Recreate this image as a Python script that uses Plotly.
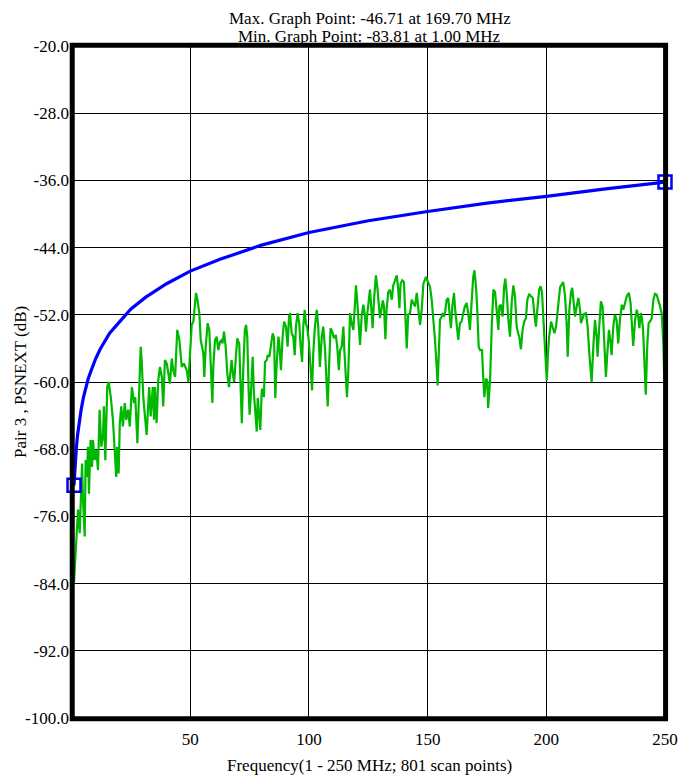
import plotly.graph_objects as go

freq_mhz = [
    1.0, 2.0, 2.7, 3.4, 4.4, 4.8, 5.5, 5.9, 6.4, 6.9, 7.3, 8.0, 8.6, 9.0, 9.7, 10.4, 11.1, 11.8, 12.5, 13.2,
    13.6, 14.2, 15.0, 15.6, 16.5, 17.4, 18.1, 18.8, 19.2, 19.8, 20.3, 20.9, 21.6, 22.4, 23.0, 23.8, 24.5, 25.4, 26.3, 26.8,
    27.7, 28.3, 29.1, 29.5, 30.2, 30.9, 31.6, 32.3, 32.7, 33.3, 34.2, 34.7, 35.1, 35.8, 36.5, 37.2, 38.0, 38.6, 39.3, 40.1,
    40.7, 41.4, 42.2, 42.8, 43.6, 44.5, 45.4, 46.4, 47.3, 48.5, 49.2, 49.9, 50.6, 51.3, 52.0, 52.4, 53.0, 53.8, 54.4, 55.5,
    55.9, 56.5, 57.3, 58.0, 58.6, 59.3, 59.7, 60.4, 61.1, 61.8, 62.5, 63.2, 63.6, 64.2, 64.9, 65.6, 66.3, 67.0, 67.4, 68.1,
    68.5, 69.3, 69.8, 70.6, 71.2, 71.7, 72.3, 73.0, 73.5, 74.0, 74.6, 75.0, 75.6, 76.3, 76.8, 77.6, 78.0, 78.4, 78.9, 79.5,
    80.1, 80.5, 81.0, 81.5, 82.2, 82.6, 83.3, 84.0, 84.7, 85.3, 85.8, 86.4, 87.1, 87.5, 88.2, 88.9, 89.5, 90.3, 91.0, 91.6,
    92.0, 92.7, 93.4, 94.0, 94.5, 95.2, 95.9, 96.5, 97.1, 97.6, 98.2, 98.7, 99.3, 99.9, 100.7, 101.3, 101.8, 102.5, 103.3, 103.9,
    104.6, 105.4, 106.0, 106.7, 107.5, 107.9, 108.4, 109.1, 109.8, 110.5, 111.3, 111.9, 112.6, 113.1, 113.8, 114.5, 114.9, 115.5, 116.0, 116.6,
    117.3, 118.0, 118.7, 119.4, 119.8, 120.4, 121.0, 121.5, 122.2, 122.9, 123.6, 124.0, 124.6, 125.2, 125.7, 126.3, 126.8, 127.4, 128.2, 128.8,
    129.4, 129.9, 130.5, 131.1, 131.6, 132.2, 132.7, 133.4, 134.1, 134.9, 135.5, 136.2, 137.0, 137.6, 138.1, 138.6, 139.3, 140.0, 140.6, 141.2,
    141.8, 142.6, 143.3, 143.9, 144.7, 145.4, 146.1, 146.8, 147.5, 148.2, 149.3, 151.0, 151.7, 152.4, 153.1, 153.8, 154.2, 154.8, 155.2, 155.9,
    156.3, 156.9, 157.4, 158.0, 158.7, 159.1, 159.8, 160.4, 161.1, 161.6, 162.2, 162.9, 163.6, 164.3, 165.0, 165.7, 166.4, 167.1, 167.8, 168.6,
    169.2, 169.7, 170.4, 170.9, 171.5, 172.1, 172.9, 173.4, 173.9, 174.6, 175.1, 175.5, 176.3, 177.0, 177.7, 178.4, 179.1, 179.8, 180.2, 180.8,
    181.6, 182.2, 182.7, 183.3, 184.0, 184.7, 185.4, 186.1, 186.8, 187.5, 188.1, 188.6, 189.3, 190.0, 190.7, 191.4, 192.0, 192.8, 193.5, 194.3,
    194.9, 195.6, 196.4, 197.0, 197.6, 198.2, 198.7, 199.4, 200.2, 200.7, 201.2, 202.0, 202.7, 203.4, 204.1, 204.8, 205.8, 207.1, 207.9, 208.6,
    209.0, 209.7, 210.4, 210.9, 211.7, 212.1, 212.8, 213.5, 214.2, 214.6, 215.3, 215.9, 216.7, 217.4, 218.1, 219.1, 219.8, 220.5, 221.2, 221.6,
    222.3, 223.0, 223.7, 224.4, 225.1, 225.7, 226.4, 227.1, 227.5, 228.2, 228.9, 229.6, 230.3, 231.0, 231.8, 232.4, 233.1, 233.9, 234.8, 235.5,
    236.1, 236.6, 237.4, 238.1, 238.7, 239.2, 239.8, 240.3, 240.8, 241.4, 241.9, 242.5, 243.1, 243.7, 244.4, 245.1, 245.8, 246.5, 247.2, 247.9,
    248.6, 249.3, 249.7, 250.0,
]
psnext_db = [
    -83.8, -78.4, -75.2, -78.0, -69.7, -74.0, -78.4, -69.3, -71.3, -67.7, -73.3, -66.9, -70.1, -66.9, -69.3, -68.1, -70.5, -63.3, -67.7, -66.5,
    -62.9, -69.3, -60.6, -60.0, -61.8, -64.5, -68.5, -71.3, -67.7, -70.9, -64.9, -62.9, -65.3, -62.5, -64.5, -63.3, -65.3, -60.6, -62.5, -61.8,
    -67.3, -61.8, -55.8, -57.4, -61.8, -64.1, -66.3, -62.5, -60.6, -64.1, -60.6, -64.5, -60.6, -64.9, -59.8, -58.2, -59.4, -62.9, -57.4, -57.8,
    -59.0, -60.2, -57.2, -58.6, -59.4, -53.8, -55.0, -58.2, -57.8, -58.6, -60.0, -55.8, -53.2, -52.8, -50.0, -49.4, -50.2, -51.8, -55.0, -56.6,
    -59.4, -55.8, -53.0, -53.8, -57.8, -62.5, -58.2, -55.0, -54.6, -56.2, -55.2, -55.0, -55.4, -54.0, -55.8, -59.0, -60.6, -59.0, -57.4, -59.4,
    -60.0, -56.6, -54.8, -55.4, -59.8, -64.9, -58.6, -53.8, -53.2, -54.6, -61.3, -63.9, -61.0, -57.0, -61.3, -64.9, -65.9, -61.9, -63.7, -65.7,
    -61.0, -60.8, -61.8, -57.6, -57.4, -56.8, -57.0, -55.4, -54.2, -54.8, -61.9, -57.8, -54.6, -55.4, -58.6, -54.6, -52.8, -53.4, -55.8, -52.2,
    -51.8, -54.2, -54.6, -56.8, -53.4, -51.8, -53.0, -55.8, -57.6, -53.4, -51.4, -53.0, -53.6, -55.0, -59.0, -61.0, -56.6, -53.4, -51.4, -53.4,
    -58.2, -54.6, -53.4, -55.8, -60.6, -62.9, -58.6, -53.6, -54.0, -54.8, -54.4, -55.8, -58.6, -56.2, -55.8, -53.4, -56.2, -59.4, -61.8, -58.6,
    -51.8, -53.0, -53.8, -50.6, -48.5, -50.6, -54.2, -55.6, -52.2, -50.8, -52.2, -54.0, -51.8, -49.8, -49.0, -51.4, -53.6, -50.2, -47.3, -48.7,
    -51.0, -52.4, -51.4, -50.3, -51.0, -54.9, -51.4, -49.3, -49.0, -50.2, -48.5, -47.9, -47.3, -49.0, -51.2, -48.3, -47.9, -48.1, -51.8, -56.0,
    -52.0, -51.8, -50.2, -50.6, -51.0, -49.4, -51.4, -53.2, -51.4, -48.3, -47.5, -48.7, -50.2, -52.2, -55.0, -58.2, -60.4, -55.8, -52.6, -52.2,
    -51.8, -52.2, -51.6, -50.2, -50.0, -51.4, -53.6, -51.0, -49.4, -51.4, -53.4, -55.0, -53.0, -52.8, -51.8, -51.0, -50.6, -51.8, -53.8, -49.4,
    -47.5, -46.7, -48.7, -51.4, -55.8, -56.2, -56.2, -59.4, -61.8, -59.6, -59.8, -63.1, -59.8, -53.4, -49.0, -49.3, -51.4, -53.8, -51.0, -50.8,
    -52.2, -48.7, -47.7, -49.4, -52.6, -54.6, -50.6, -48.5, -49.8, -53.4, -54.2, -54.6, -56.1, -53.8, -52.8, -52.4, -50.2, -49.5, -49.8, -50.0,
    -51.8, -53.4, -50.8, -49.0, -48.6, -49.4, -52.2, -55.8, -59.8, -56.6, -54.6, -52.8, -53.4, -54.2, -53.4, -51.4, -48.7, -48.1, -49.8, -53.4,
    -57.0, -51.4, -49.3, -48.8, -50.6, -52.2, -51.0, -50.0, -51.4, -53.0, -52.4, -51.9, -51.8, -53.4, -56.6, -60.0, -55.8, -52.6, -54.6, -57.0,
    -53.4, -50.4, -51.0, -55.4, -59.4, -56.6, -53.8, -55.4, -56.8, -53.4, -52.0, -52.6, -55.4, -52.6, -50.8, -51.4, -50.6, -49.8, -49.4, -50.6,
    -53.4, -55.7, -52.6, -51.4, -52.2, -53.6, -51.8, -52.4, -54.0, -57.4, -61.5, -55.8, -53.0, -52.8, -52.4, -50.2, -49.5, -49.6, -50.2, -51.0,
    -51.8, -55.4, -59.8, -55.8,
]

# Limit line
limit_freq = [1, 1.25, 1.5, 1.75, 2, 2.5, 3, 3.5, 4, 5, 6, 7, 8, 9, 10, 12, 14, 16,
              20, 25, 31.25, 40, 50, 62.5, 80, 100, 125, 150, 175, 200, 225, 250]
limit_db = [-72.3, -70.8, -69.7, -68.7, -67.8, -66.3, -65.1, -64.1, -63.3, -61.8, -60.6, -59.6, -58.8,
            -58.0, -57.3, -56.1, -55.1, -54.2,
            -52.9, -51.3, -49.9, -48.3, -46.8, -45.4, -43.7, -42.2, -40.8, -39.7, -38.7, -37.9, -37.0, -36.2]

# Marker points on the limit line (ends)
marker_freq = [1, 250]
marker_db = [-72.3, -36.2]

x_ticks = [50, 100, 150, 200, 250]
y_ticks = [-100, -92, -84, -76, -68, -60, -52, -44, -36, -28, -20]
y_tick_text = ["-100.0", "-92.0", "-84.0", "-76.0", "-68.0", "-60.0", "-52.0", "-44.0", "-36.0", "-28.0", "-20.0"]

title_lines = ["Max. Graph Point: -46.71 at 169.70 MHz", "Min. Graph Point: -83.81 at 1.00 MHz"]
x_title = "Frequency(1 - 250 MHz; 801 scan points)"
y_title = "Pair 3 , PSNEXT (dB)"

FONT = "Liberation Serif, Times New Roman, serif"
FS = 17

fig = go.Figure()
fig.add_trace(go.Scatter(x=freq_mhz, y=psnext_db, mode="lines",
                         line=dict(color="#00b800", width=2.2), hoverinfo="skip"))
fig.add_trace(go.Scatter(x=limit_freq, y=limit_db, mode="lines",
                         line=dict(color="#0000ff", width=3.2), hoverinfo="skip"))
fig.add_trace(go.Scatter(x=marker_freq, y=marker_db, mode="markers", cliponaxis=False,
                         marker=dict(symbol="square-open", size=13, color="#0000ff",
                                     line=dict(color="#0000ff", width=2.5)), hoverinfo="skip"))

fig.update_layout(
    width=680, height=776,
    autosize=False,
    margin=dict(l=74, r=15, t=46, b=58, autoexpand=False),
    paper_bgcolor="white", plot_bgcolor="white",
    showlegend=False,
    font=dict(family=FONT, size=FS, color="black"),
    xaxis=dict(range=[1, 250], tickmode="array", tickvals=x_ticks, automargin=False,
               showgrid=True, gridcolor="black", gridwidth=1, zeroline=False,
               ticks="", ticklabelstandoff=9, showline=False),
    yaxis=dict(range=[-100, -20], tickmode="array", tickvals=y_ticks, ticktext=y_tick_text,
               automargin=False,
               showgrid=True, gridcolor="black", gridwidth=1, zeroline=False,
               ticks="", ticklabelstandoff=4, showline=False),
    shapes=[dict(type="rect", xref="paper", yref="paper", x0=-0.003, x1=1.001, y0=-0.001, y1=1.001,
                 line=dict(color="black", width=5), layer="above")],
    annotations=[
        dict(text=title_lines[0], xref="paper", yref="paper", x=0.5, y=1, yshift=28,
             showarrow=False, yanchor="middle", font=dict(family=FONT, size=FS)),
        dict(text=title_lines[1], xref="paper", yref="paper", x=0.5, y=1, yshift=10,
             showarrow=False, yanchor="middle", font=dict(family=FONT, size=FS)),
        dict(text=x_title, xref="paper", yref="paper", x=0.5, y=0, yshift=-47,
             showarrow=False, yanchor="middle", font=dict(family=FONT, size=FS)),
        dict(text=y_title, xref="paper", yref="paper", x=0, y=0.5, xshift=-54, textangle=-90,
             showarrow=False, xanchor="center", yanchor="middle", font=dict(family=FONT, size=FS)),
    ],
)

fig.write_html("out.html", config={"displayModeBar": False},
               post_script="document.body.style.margin='0';document.body.style.padding='0';")
